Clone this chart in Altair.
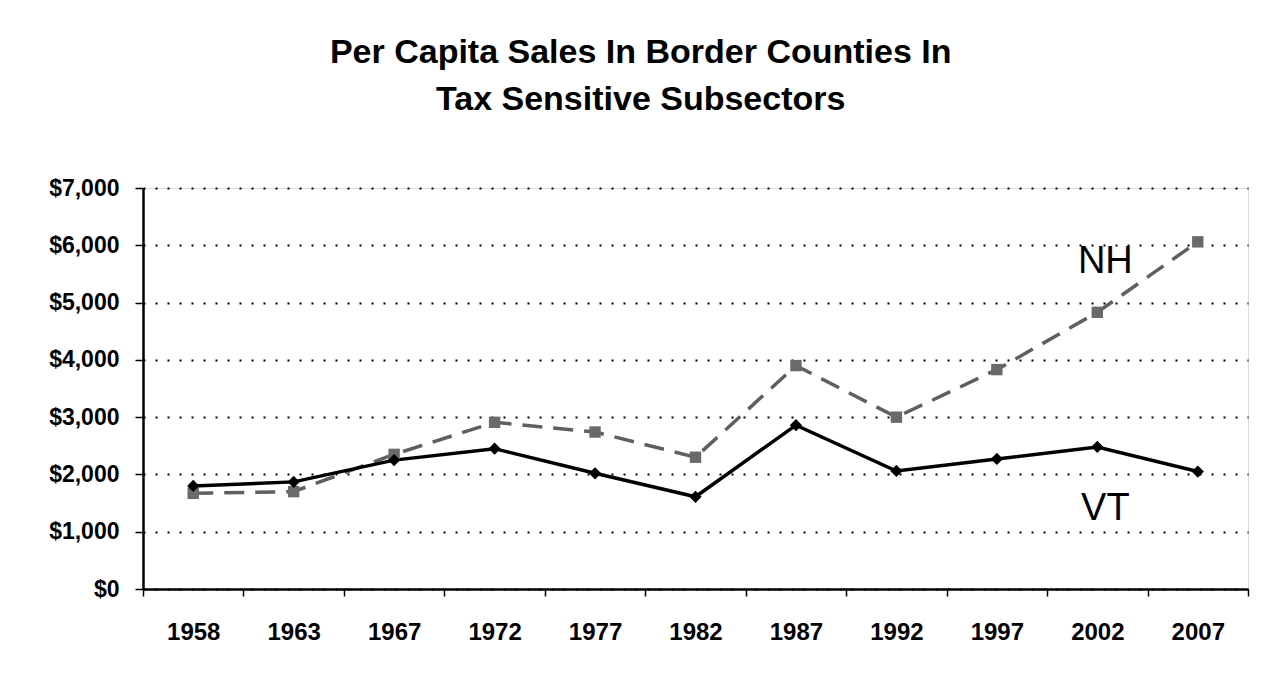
import altair as alt
import pandas as pd

years = ["1958", "1963", "1967", "1972", "1977", "1982", "1987", "1992", "1997", "2002", "2007"]
vt_sales = [1800, 1870, 2250, 2450, 2020, 1610, 2860, 2060, 2270, 2480, 2050]
nh_sales = [1670, 1700, 2350, 2910, 2740, 2300, 3900, 3000, 3830, 4830, 6060]

label_names = ["NH", "VT"]
label_years = ["2002", "2002"]
label_values = [5700, 1400]

title_lines = ["Per Capita Sales In Border Counties In", "Tax Sensitive Subsectors"]

vt_df = pd.DataFrame({"year": years, "sales": vt_sales})
nh_df = pd.DataFrame({"year": years, "sales": nh_sales})
lab_df = pd.DataFrame({"year": label_years, "sales": label_values, "name": label_names})

FONT = "Liberation Sans"

x_enc = alt.X(
    "year:N",
    sort=years,
    title=None,
    scale=alt.Scale(type="band", domain=years, paddingInner=0, paddingOuter=0),
    axis=alt.Axis(
        labelAngle=0,
        labelFont=FONT,
        labelFontWeight="bold",
        labelFontSize=24,
        labelColor="black",
        labelPadding=24,
        tickBand="extent",
        tickSize=7,
        tickColor="black",
        tickWidth=1.5,
        domainColor="black",
        domainWidth=2.5,
        grid=False,
    ),
)

y_enc = alt.Y(
    "sales:Q",
    title=None,
    scale=alt.Scale(domain=[0, 7000], nice=False),
    axis=alt.Axis(
        values=[0, 1000, 2000, 3000, 4000, 5000, 6000, 7000],
        format="$,.0f",
        labelFont=FONT,
        labelFontWeight="bold",
        labelFontSize=23,
        labelColor="black",
        labelPadding=16,
        tickSize=8,
        tickColor="black",
        tickWidth=1.5,
        domainColor="black",
        domainWidth=2.5,
        grid=True,
        gridColor="black",
        gridDash=[2, 10],
        gridWidth=2,
    ),
)

nh_line = alt.Chart(nh_df).mark_line(
    color="#5f5f5f", strokeWidth=3.5, strokeDash=[20, 11]
).encode(x=x_enc, y=y_enc)
nh_pts = alt.Chart(nh_df).mark_point(
    shape="square", filled=True, size=130, color="#6a6a6a", opacity=1
).encode(x=x_enc, y=y_enc)

vt_line = alt.Chart(vt_df).mark_line(color="black", strokeWidth=3.5).encode(x=x_enc, y=y_enc)
vt_pts = alt.Chart(vt_df).mark_point(
    shape="diamond", filled=True, size=150, color="black", opacity=1
).encode(x=x_enc, y=y_enc)

labels = alt.Chart(lab_df).mark_text(
    font=FONT, fontSize=38, color="black", baseline="middle", align="center", dx=8
).encode(x=x_enc, y=y_enc, text="name:N")

chart = (
    alt.layer(nh_line, vt_line, nh_pts, vt_pts, labels)
    .properties(
        width=1105,
        height=401,
        autosize=alt.AutoSizeParams(type="none"),
        padding={"left": 135, "top": 180, "right": 9, "bottom": 70},
        title=alt.Title(
            text=title_lines,
            font=FONT,
            fontSize=34,
            fontWeight="bold",
            color="black",
            lineHeight=47,
            anchor="middle",
            frame="bounds",
            offset=60,
            dx=-8,
        ),
    )
    .configure_view(stroke="#b0b0b0", strokeDash=[2, 4], strokeWidth=1)
    .configure(background="white")
)

chart.save("out.html", embed_options={"renderer": "svg", "actions": False})
